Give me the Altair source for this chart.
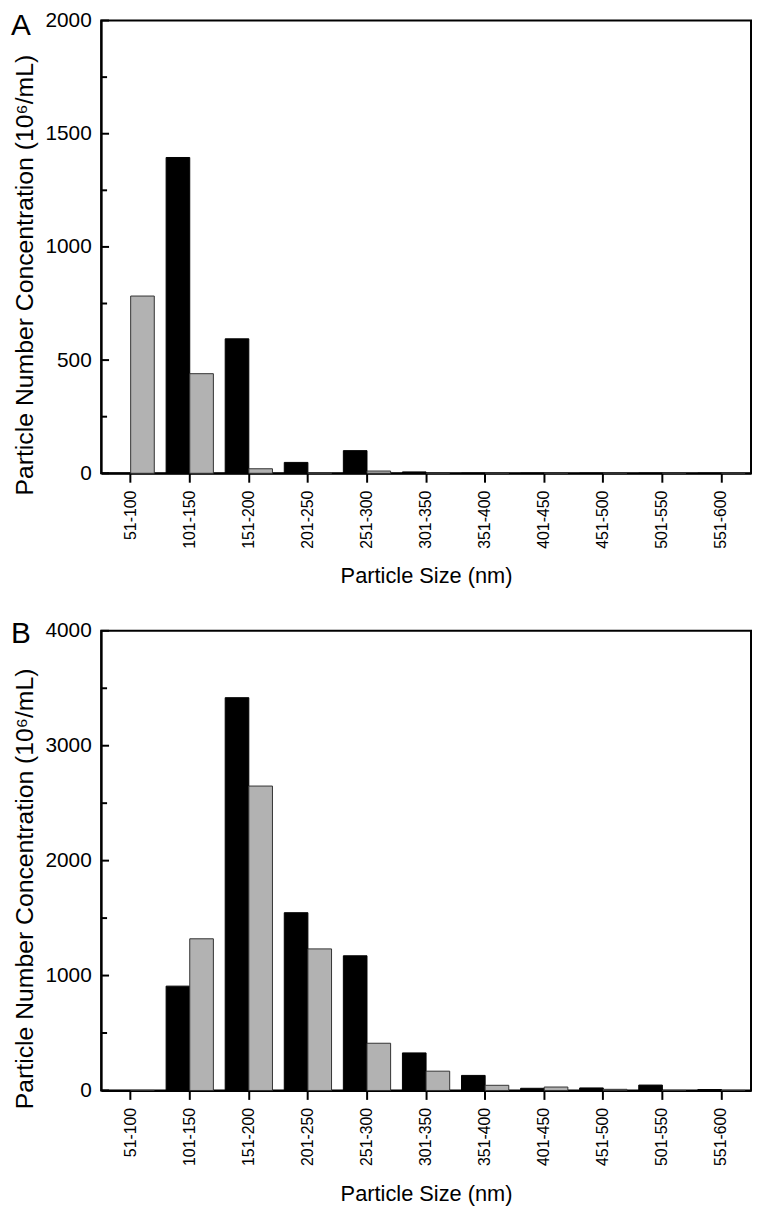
import altair as alt
import pandas as pd

categories = ["51-100", "101-150", "151-200", "201-250", "251-300", "301-350",
              "351-400", "401-450", "451-500", "501-550", "551-600"]
series = ["black", "gray"]

a_black = [0, 1395, 594, 48, 100, 6, 0, 0, 0, 0, 0]
a_gray = [783, 440, 20, 3, 10, 0, 0, 0, 0, 0, 0]

b_black = [0, 908, 3418, 1547, 1172, 327, 131, 19, 22, 47, 8]
b_gray = [0, 1320, 2649, 1232, 411, 168, 45, 30, 10, 0, 0]

a_ticks_major = [0, 500, 1000, 1500, 2000]
a_ticks_minor = [250, 750, 1250, 1750]
b_ticks_major = [0, 1000, 2000, 3000, 4000]
b_ticks_minor = [500, 1500, 2500, 3500]

FONT = "Liberation Sans"
W = 656


def panel(black, gray, ymax, major, minor, letter, letter_y, H):
    df = pd.DataFrame({
        "size": categories * 2,
        "series": ["black"] * len(categories) + ["gray"] * len(categories),
        "value": black + gray,
    })
    yscale = alt.Scale(domain=[0, ymax], nice=False)
    bars = alt.Chart(df).mark_bar(strokeWidth=1).encode(
        x=alt.X("size:N", sort=categories,
                scale=alt.Scale(paddingInner=0.2, paddingOuter=0.1),
                axis=alt.Axis(title="Particle Size (nm)", labelAngle=270,
                              labelFontSize=16, titleFontSize=22,
                              tickSize=9, tickWidth=2, tickColor="black",
                              domainWidth=2, domainColor="black",
                              labelPadding=8, titlePadding=18,
                              labelColor="black", titleColor="black",
                              titleFontWeight="normal")),
        xOffset=alt.XOffset("series:N", sort=series,
                            scale=alt.Scale(paddingInner=0, paddingOuter=0)),
        y=alt.Y("value:Q", scale=yscale,
                axis=alt.Axis(title="Particle Number Concentration (10\u2076/mL)",
                              values=major, ticks=False, grid=False,
                              labelFontSize=21, titleFontSize=25,
                              labelPadding=10,
                              titleX=-69, titleY=H / 2 + 28, titleAngle=270,
                              titleBaseline="alphabetic", titleAlign="center",
                              domainWidth=2, domainColor="black",
                              labelColor="black", titleColor="black",
                              titleFontWeight="normal", format="d")),
        color=alt.Color("series:N", sort=series,
                        scale=alt.Scale(domain=series, range=["#000000", "#b2b2b2"]),
                        legend=None),
        stroke=alt.Stroke("series:N", sort=series,
                          scale=alt.Scale(domain=series, range=["#000000", "#333333"]),
                          legend=None),
    )
    tdf_major = pd.DataFrame({"v": major})
    tdf_minor = pd.DataFrame({"v": minor})
    ticks_major = alt.Chart(tdf_major).mark_rule(color="black", strokeWidth=2).encode(
        y=alt.Y("v:Q", scale=yscale), x=alt.value(0), x2=alt.value(8))
    ticks_minor = alt.Chart(tdf_minor).mark_rule(color="black", strokeWidth=2).encode(
        y=alt.Y("v:Q", scale=yscale), x=alt.value(0), x2=alt.value(6))
    label = alt.Chart(pd.DataFrame({"t": [letter]})).mark_text(
        align="left", baseline="alphabetic", fontSize=30, font=FONT, color="black"
    ).encode(text="t:N", x=alt.value(-91), y=alt.value(letter_y))
    return alt.layer(bars, ticks_major, ticks_minor, label).properties(width=W, height=H)


chart = alt.vconcat(
    panel(a_black, a_gray, 2000, a_ticks_major, a_ticks_minor, "A", 15, 457),
    panel(b_black, b_gray, 4000, b_ticks_major, b_ticks_minor, "B", 12, 464),
    spacing=30,
).properties(padding={"left": 2, "top": -5, "right": 0, "bottom": 0}).configure(
    font=FONT
).configure_view(stroke="black", strokeWidth=2)

chart.save("out.html", embed_options={"renderer": "svg", "actions": False})
